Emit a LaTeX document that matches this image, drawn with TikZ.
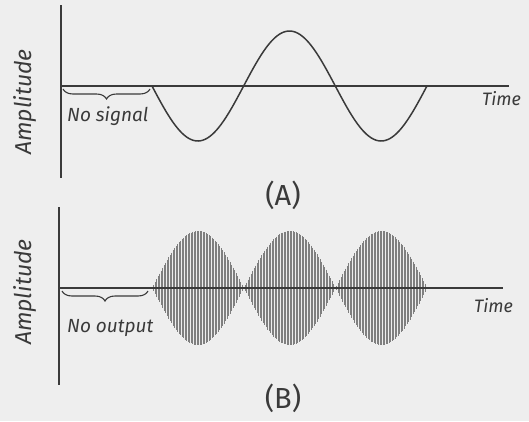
\documentclass[tikz,border=0pt]{standalone}
\usepackage{fontspec}
\setmainfont{Fira Sans}
\usetikzlibrary{decorations.pathreplacing}
\definecolor{paper}{HTML}{EEEEEE}
\definecolor{ink}{HTML}{3A3A3A}
\tikzset{
  axis/.style={ink, line width=1.6pt},
  wave/.style={ink, line width=1.5pt},
  carrier/.style={ink!65, line width=0.4pt},
  bracelbl/.style={ink, line width=1.1pt, decorate, decoration={brace, mirror, amplitude=10pt, raise=1pt}},
  hand/.style={ink, font=\itshape\fontsize{19}{19}\selectfont, inner sep=0pt},
  timelbl/.style={ink, font=\itshape\fontsize{18}{18}\selectfont, inner sep=0pt},
  ylbl/.style={ink, font=\itshape\fontsize{23}{23}\selectfont, rotate=90, inner sep=0pt},
  panel/.style={ink, font=\fontsize{29}{29}\selectfont, inner sep=0pt}
}
\begin{document}
\begin{tikzpicture}[x=1pt, y=-1pt]
\useasboundingbox[fill=paper] (0,0) rectangle (529,421);
% ---- Panel A ----
\draw[axis] (61,5) -- (61,178);
\draw[axis] (61,86) -- (509,86);
\draw[wave, samples=120, domain=152:427, smooth] plot (\x, {86+55*sin(1.964*(\x-152))});
\draw[bracelbl] (63,88) -- (150,88);
\node[hand, anchor=west] (nosig) at (67,116) {No signal};
\node[timelbl, anchor=west] (timeA) at (482,99) {Time};
\node[ylbl] (ampA) at (25,102) {Amplitude};
\node[panel] (labA) at (283,195) {(A)};
% ---- Panel B ----
\foreach \i in {0,...,183} {
  \pgfmathsetmacro{\xx}{152+\i*1.5}
  \pgfmathsetmacro{\hh}{57*abs(sin(1.963*(\xx-152)))}
  \draw[carrier] (\xx,{288-\hh}) -- (\xx,{288+\hh});
}
\draw[axis] (59,207) -- (59,385);
\draw[axis] (59,288) -- (503,288);
\draw[bracelbl] (62,290) -- (148,290);
\node[hand, anchor=west] (noout) at (67,328) {No output};
\node[timelbl, anchor=west] (timeB) at (474,306) {Time};
\node[ylbl] (ampB) at (25,292) {Amplitude};
\node[panel] (labB) at (283,398) {(B)};
\end{tikzpicture}
\end{document}
